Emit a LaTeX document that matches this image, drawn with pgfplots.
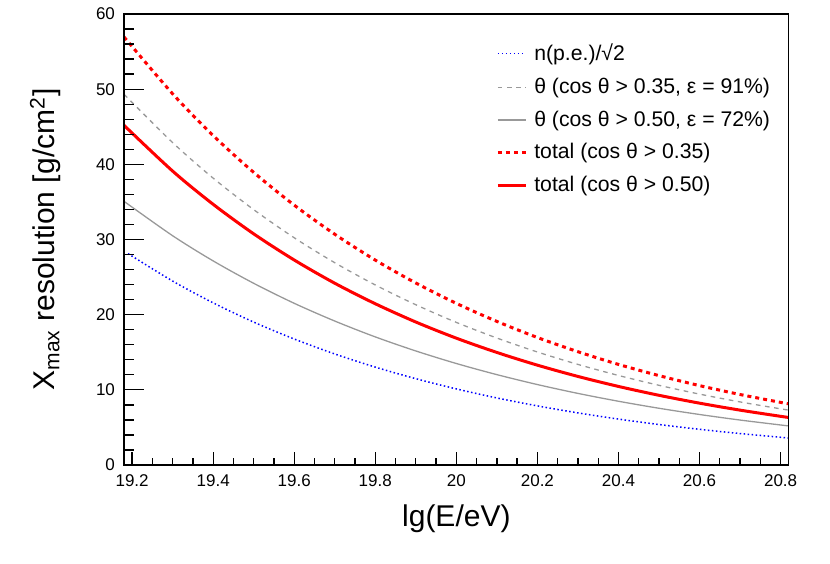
\documentclass[border=0pt]{standalone}
\usepackage{pgfplots}
\pgfplotsset{compat=1.18}
\usepackage{fontspec}
\setmainfont{Liberation Sans}
\usetikzlibrary{calc}
\definecolor{rootgray}{RGB}{153,153,153}
\pgfplotsset{common/.style={
  scale only axis,
  width=332.35pt, height=225.5pt,
  xmin=19.18, xmax=20.82, ymin=0, ymax=60,
  tick align=inside,
  axis line style={line width=0.65pt},
  every tick/.style={black, line width=0.65pt},
  /pgf/number format/assume math mode=true,
  tick label style={font=\fontsize{8.5}{10}\selectfont},
}}
\begin{document}
\begin{tikzpicture}
\begin{axis}[
  common,
  xtick={19.2,19.4,...,20.81},
  xticklabels={19.2,19.4,19.6,19.8,20,20.2,20.4,20.6,20.8},
  minor x tick num=3,
  xtick pos=bottom,
  ytick=\empty,
  major tick length=6.7pt, minor tick length=3.4pt,
  xticklabel style={yshift=-1.5pt},
  xlabel={lg(E/eV)},
  xlabel style={at={(axis description cs:0.5,-0.1353)}, anchor=base, font=\fontsize{15}{18}\selectfont},
  ylabel={X\textsubscript{max} resolution [g/cm\textsuperscript{2}]},
  ylabel style={at={(axis description cs:-0.1038,0.5)}, anchor=base, font=\fontsize{15}{18}\selectfont},
  legend style={draw=none, fill=none, at={(0.5505,0.948)}, anchor=north west,
    font=\fontsize{10.6}{12}\selectfont, row sep=5.2pt,
    nodes={inner sep=1pt}},
  legend cell align=left,
  legend image code/.code={\draw[#1] (0pt,0pt) -- (14pt,0pt); \path (16.5pt,0pt);},
]
\addplot[blue, line width=0.75pt, dash pattern=on 0.75pt off 1.25pt, smooth] coordinates {
(19.19,28.12) (19.3,24.47) (19.4,21.57) (19.5,19.01) (19.6,16.76) (19.7,14.77)
(19.8,13.02) (19.9,11.48) (20.0,10.12) (20.1,8.918) (20.2,7.862) (20.3,6.929)
(20.4,6.108) (20.5,5.384) (20.6,4.746) (20.7,4.183) (20.8,3.687) (20.82,3.595)};
\addlegendentry{n(p.e.)/√2}
\addplot[rootgray, line width=0.65pt, dash pattern=on 2.3pt off 2.3pt, smooth] coordinates {
(19.18,49.32) (19.3,42.89) (19.4,38.16) (19.5,33.97) (19.6,30.23) (19.7,26.91)
(19.8,23.95) (19.9,21.32) (20.0,18.97) (20.1,16.89) (20.2,15.03) (20.3,13.38)
(20.4,11.91) (20.5,10.60) (20.6,9.43) (20.7,8.39) (20.8,7.47) (20.82,7.30)};
\addlegendentry{θ (cos θ > 0.35, ε = 91\%)}
\addplot[rootgray, line width=0.65pt, smooth] coordinates {
(19.18,35.08) (19.3,30.50) (19.4,27.15) (19.5,24.17) (19.6,21.51) (19.7,19.15)
(19.8,17.04) (19.9,15.17) (20.0,13.50) (20.1,12.02) (20.2,10.70) (20.3,9.524)
(20.4,8.478) (20.5,7.546) (20.6,6.718) (20.7,5.979) (20.8,5.322) (20.82,5.200)};
\addlegendentry{θ (cos θ > 0.50, ε = 72\%)}
\addplot[red, line width=1.5pt, dash pattern=on 2pt off 2pt, smooth] coordinates {
(19.18,56.95) (19.3,49.38) (19.4,43.83) (19.5,38.93) (19.6,34.57) (19.7,30.70)
(19.8,27.26) (19.9,24.21) (20.0,21.50) (20.1,19.10) (20.2,16.96) (20.3,15.07)
(20.4,13.38) (20.5,11.89) (20.6,10.56) (20.7,9.375) (20.8,8.330) (20.82,8.137)};
\addlegendentry{total (cos θ > 0.35)}
\addplot[red, line width=1.5pt, smooth] coordinates {
(19.18,45.19) (19.3,39.10) (19.4,34.68) (19.5,30.75) (19.6,27.27) (19.7,24.18)
(19.8,21.45) (19.9,19.02) (20.0,16.87) (20.1,14.97) (20.2,13.28) (20.3,11.78)
(20.4,10.45) (20.5,9.270) (20.6,8.225) (20.7,7.297) (20.8,6.474) (20.82,6.321)};
\addlegendentry{total (cos θ > 0.50)}
\end{axis}
\begin{axis}[
  common,
  hide x axis,
  ytick={0,10,...,60},
  minor y tick num=4,
  ytick pos=left,
  major tick length=10pt, minor tick length=5pt,
  yticklabel style={xshift=-1pt},
]
\end{axis}
\pgfresetboundingbox
\path ($(current axis.south west)+(-62pt,-49.5pt)$) rectangle ($(current axis.north east)+(20.65pt,7pt)$);
\end{tikzpicture}
\end{document}
